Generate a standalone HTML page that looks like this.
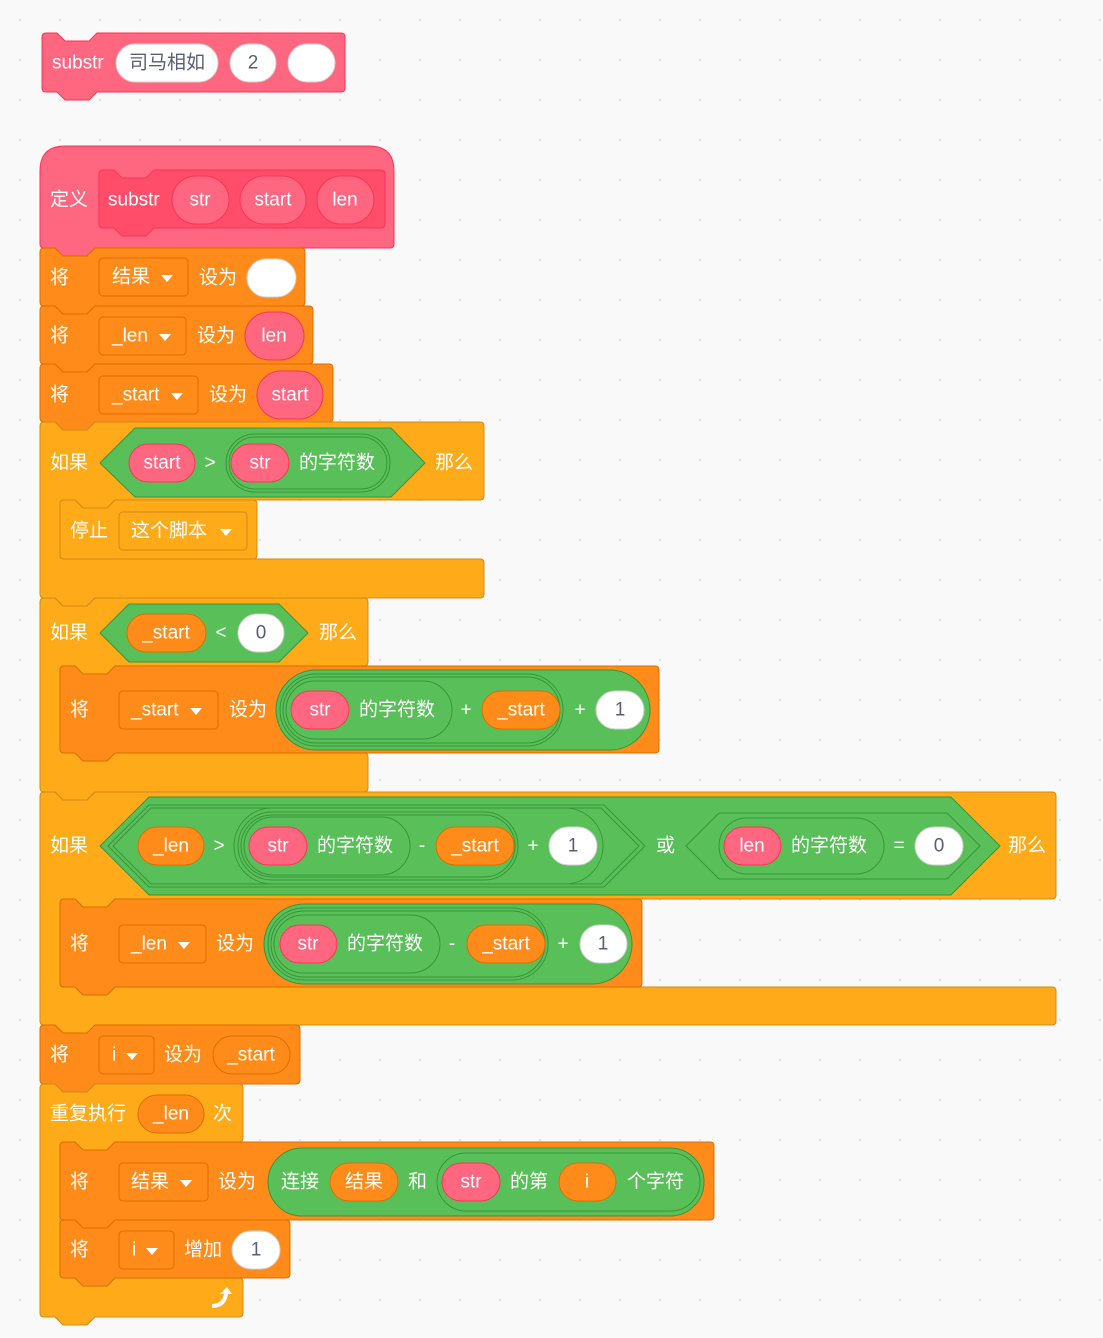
<!DOCTYPE html>
<html><head><meta charset="utf-8"><style>
html,body{margin:0;padding:0;background:#F9F9F9}
svg{display:block}
.t{fill:#fff;font-size:19px;font-family:"Liberation Sans","Noto Sans CJK SC",sans-serif;dominant-baseline:central}
.c{text-anchor:middle}
.d{fill:#575E75}
.pk{fill:#FF6680;stroke:#FF3355;stroke-width:1}
.pd{fill:#FF4D6A;stroke:#FF3355;stroke-width:1}
.or{fill:#FF8C1A;stroke:#DB6E00;stroke-width:1}
.ct{fill:#FFAB19;stroke:#CF8B17;stroke-width:1}
.gr{fill:#59C059;stroke:#389438;stroke-width:1}
.wh{fill:#fff;stroke:#d0d0d0;stroke-width:1}
.rg{fill:none;stroke:#389438;stroke-width:1}
.ar{fill:#fff}
</style></head><body>
<svg width="1103" height="1338" viewBox="0 0 1103 1338" xmlns="http://www.w3.org/2000/svg">
<defs><pattern id="dots" width="40" height="40" patternUnits="userSpaceOnUse"><circle cx="20" cy="20" r="1" fill="#d9d9d9"/></pattern></defs>
<rect width="1103" height="1338" fill="url(#dots)"/>

<path class="pk" d="M42,37 Q42,33 46,33 L57,33 L65,41 L89,41 L97,33 L341,33 Q345,33 345,37 L345,88 Q345,92 341,92 L97,92 L89,100 L65,100 L57,92 L46,92 Q42,92 42,88 Z"/>
<text class="t" x="52" y="63">substr</text>
<rect class="wh" x="116" y="44" width="102" height="38" rx="19"/><text class="t c d" x="167" y="63">司马相如</text>
<rect class="wh" x="230" y="44" width="46" height="38" rx="19"/><text class="t c d" x="253" y="63">2</text>
<rect class="wh" x="288" y="44" width="47" height="38" rx="19"/>

<path class="pk" d="M40,244 L40,171 Q40,146 65,146 L369,146 Q394,146 394,171 L394,244 Q394,248 390,248 L95,248 L87,256 L63,256 L55,248 L44,248 Q40,248 40,244 Z"/>
<text class="t" x="50" y="200">定义</text>
<path class="pd" d="M99,174 Q99,170 103,170 L114,170 L122,178 L146,178 L154,170 L381,170 Q385,170 385,174 L385,224 Q385,228 381,228 L154,228 L146,236 L122,236 L114,228 L103,228 Q99,228 99,224 Z"/>
<text class="t" x="108" y="200">substr</text>
<rect class="pk" x="172" y="176" width="57" height="48" rx="24"/><text class="t c" x="200" y="200">str</text>
<rect class="pk" x="240" y="176" width="66" height="48" rx="24"/><text class="t c" x="273" y="200">start</text>
<rect class="pk" x="317" y="176" width="57" height="48" rx="24"/><text class="t c" x="345" y="200">len</text>

<path class="or" d="M40,252 Q40,248 44,248 L55,248 L63,256 L87,256 L95,248 L301,248 Q305,248 305,252 L305,302 Q305,306 301,306 L95,306 L87,314 L63,314 L55,306 L44,306 Q40,306 40,302 Z"/>
<text class="t" x="50" y="278">将</text>
<rect class="or" x="99" y="258" width="89" height="38" rx="4"/><text class="t" x="112" y="277">结果</text><path class="ar" d="M161,275 L173,275 L167,282 Z"/>
<text class="t" x="199" y="278">设为</text>
<rect class="wh" x="247" y="259" width="49" height="38" rx="19"/>

<path class="or" d="M40,310 Q40,306 44,306 L55,306 L63,314 L87,314 L95,306 L309,306 Q313,306 313,310 L313,360 Q313,364 309,364 L95,364 L87,372 L63,372 L55,364 L44,364 Q40,364 40,360 Z"/>
<text class="t" x="50" y="336">将</text>
<rect class="or" x="99" y="317" width="87" height="38" rx="4"/><text class="t" x="112" y="336">_len</text><path class="ar" d="M159,334 L171,334 L165,341 Z"/>
<text class="t" x="197" y="336">设为</text>
<rect class="pk" x="245" y="312" width="59" height="48" rx="24"/><text class="t c" x="274" y="336">len</text>

<path class="or" d="M40,368 Q40,364 44,364 L55,364 L63,372 L87,372 L95,364 L329,364 Q333,364 333,368 L333,418 Q333,422 329,422 L95,422 L87,430 L63,430 L55,422 L44,422 Q40,422 40,418 Z"/>
<text class="t" x="50" y="395">将</text>
<rect class="or" x="99" y="376" width="99" height="38" rx="4"/><text class="t" x="112" y="395">_start</text><path class="ar" d="M171,393 L183,393 L177,400 Z"/>
<text class="t" x="209" y="395">设为</text>
<rect class="pk" x="257" y="371" width="66" height="48" rx="24"/><text class="t c" x="290" y="395">start</text>

<path class="ct" d="M40,426 Q40,422 44,422 L55,422 L63,430 L87,430 L95,422 L480,422 Q484,422 484,426 L484,496 Q484,500 480,500 L115,500 L107,508 L83,508 L75,500 L64,500 Q60,500 60,504 L60,555 Q60,559 64,559 L480,559 Q484,559 484,563 L484,594 Q484,598 480,598 L95,598 L87,606 L63,606 L55,598 L44,598 Q40,598 40,594 Z"/>
<text class="t" x="50" y="463">如果</text>
<polygon class="gr" points="100,463 135,428 391,428 425,463 391,497 135,497"/>
<rect class="pk" x="129" y="444" width="66" height="38" rx="19"/><text class="t c" x="162" y="463">start</text>
<text class="t c" x="210" y="463">&gt;</text>
<rect class="gr" x="226" y="434" width="164" height="58" rx="29"/>
<rect class="rg" x="229" y="437" width="158" height="52" rx="26"/>
<rect class="pk" x="231" y="444" width="58" height="38" rx="19"/><text class="t c" x="260" y="463">str</text>
<text class="t" x="299" y="463">的字符数</text>
<text class="t" x="435" y="463">那么</text>
<path class="ct" d="M60,504 Q60,500 64,500 L75,500 L83,508 L107,508 L115,500 L253,500 Q257,500 257,504 L257,555 Q257,559 253,559 L64,559 Q60,559 60,555 Z"/>
<text class="t" x="70" y="531">停止</text>
<rect class="ct" x="119" y="512" width="128" height="38" rx="4"/><text class="t" x="131" y="531">这个脚本</text><path class="ar" d="M220,529 L232,529 L226,536 Z"/>

<path class="ct" d="M40,602 Q40,598 44,598 L55,598 L63,606 L87,606 L95,598 L364,598 Q368,598 368,602 L368,662 Q368,666 364,666 L115,666 L107,674 L83,674 L75,666 L64,666 Q60,666 60,670 L60,749 Q60,753 64,753 L75,753 L83,761 L107,761 L115,753 L364,753 Q368,753 368,757 L368,788 Q368,792 364,792 L95,792 L87,800 L63,800 L55,792 L44,792 Q40,792 40,788 Z"/>
<text class="t" x="50" y="633">如果</text>
<polygon class="gr" points="100,633 129,604 279,604 308,633 279,662 129,662"/>
<rect class="or" x="127" y="614" width="79" height="38" rx="19"/><text class="t c" x="166" y="633">_start</text>
<text class="t c" x="221" y="633">&lt;</text>
<rect class="wh" x="238" y="614" width="46" height="38" rx="19"/><text class="t c d" x="261" y="633">0</text>
<text class="t" x="319" y="633">那么</text>
<path class="or" d="M60,670 Q60,666 64,666 L75,666 L83,674 L107,674 L115,666 L655,666 Q659,666 659,670 L659,749 Q659,753 655,753 L115,753 L107,761 L83,761 L75,753 L64,753 Q60,753 60,749 Z"/>
<text class="t" x="70" y="710">将</text>
<rect class="or" x="119" y="691" width="99" height="38" rx="4"/><text class="t" x="131" y="710">_start</text><path class="ar" d="M190,708 L202,708 L196,715 Z"/>
<text class="t" x="229" y="710">设为</text>
<rect class="gr" x="276" y="670" width="374" height="80" rx="40"/>
<rect class="rg" x="280" y="674" width="283" height="72" rx="36"/>
<rect class="rg" x="283" y="677" width="277" height="66" rx="33"/>
<rect class="rg" x="286" y="681" width="166" height="58" rx="29"/>
<rect class="pk" x="291" y="691" width="58" height="38" rx="19"/><text class="t c" x="320" y="710">str</text>
<text class="t" x="359" y="710">的字符数</text>
<text class="t c" x="466" y="710">+</text>
<rect class="or" x="482" y="691" width="78" height="38" rx="19"/><text class="t c" x="521" y="710">_start</text>
<text class="t c" x="580" y="710">+</text>
<rect class="wh" x="596" y="691" width="48" height="38" rx="19"/><text class="t c d" x="620" y="710">1</text>

<path class="ct" d="M40,796 Q40,792 44,792 L55,792 L63,800 L87,800 L95,792 L1052,792 Q1056,792 1056,796 L1056,895 Q1056,899 1052,899 L115,899 L107,907 L83,907 L75,899 L64,899 Q60,899 60,903 L60,983 Q60,987 64,987 L75,987 L83,995 L107,995 L115,987 L1052,987 Q1056,987 1056,991 L1056,1021 Q1056,1025 1052,1025 L95,1025 L87,1033 L63,1033 L55,1025 L44,1025 Q40,1025 40,1021 Z"/>
<text class="t" x="50" y="846">如果</text>
<polygon class="gr" points="100,846 149,797 951,797 1000,846 951,895 149,895"/>
<polygon class="rg" points="108,846 149,805 604,805 645,846 604,887 149,887"/>
<polygon class="rg" points="113,846 151,808 601,808 639,846 601,884 151,884"/>
<rect class="or" x="138" y="827" width="66" height="38" rx="19"/><text class="t c" x="171" y="846">_len</text>
<text class="t c" x="219" y="846">&gt;</text>
<rect class="rg" x="234" y="808" width="369" height="76" rx="38"/>
<rect class="rg" x="238" y="812" width="280" height="68" rx="34"/>
<rect class="rg" x="241" y="815" width="274" height="62" rx="31"/>
<rect class="rg" x="244" y="817" width="166" height="58" rx="29"/>
<rect class="pk" x="249" y="827" width="58" height="38" rx="19"/><text class="t c" x="278" y="846">str</text>
<text class="t" x="317" y="846">的字符数</text>
<text class="t c" x="422" y="846">-</text>
<rect class="or" x="436" y="827" width="78" height="38" rx="19"/><text class="t c" x="475" y="846">_start</text>
<text class="t c" x="533" y="846">+</text>
<rect class="wh" x="549" y="827" width="48" height="38" rx="19"/><text class="t c d" x="573" y="846">1</text>
<text class="t" x="656" y="846">或</text>
<polygon class="rg" points="686,846 719,813 947,813 980,846 947,879 719,879"/>
<rect class="rg" x="719" y="818" width="165" height="56" rx="28"/>
<rect class="pk" x="724" y="827" width="57" height="38" rx="19"/><text class="t c" x="752" y="846">len</text>
<text class="t" x="791" y="846">的字符数</text>
<text class="t c" x="899" y="846">=</text>
<rect class="wh" x="915" y="827" width="48" height="38" rx="19"/><text class="t c d" x="939" y="846">0</text>
<text class="t" x="1008" y="846">那么</text>
<path class="or" d="M60,903 Q60,899 64,899 L75,899 L83,907 L107,907 L115,899 L638,899 Q642,899 642,903 L642,983 Q642,987 638,987 L115,987 L107,995 L83,995 L75,987 L64,987 Q60,987 60,983 Z"/>
<text class="t" x="70" y="944">将</text>
<rect class="or" x="119" y="925" width="87" height="38" rx="4"/><text class="t" x="131" y="944">_len</text><path class="ar" d="M178,942 L190,942 L184,949 Z"/>
<text class="t" x="216" y="944">设为</text>
<rect class="gr" x="264" y="904" width="368" height="80" rx="40"/>
<rect class="rg" x="268" y="908" width="280" height="72" rx="36"/>
<rect class="rg" x="271" y="911" width="274" height="66" rx="33"/>
<rect class="rg" x="274" y="915" width="166" height="58" rx="29"/>
<rect class="pk" x="280" y="925" width="57" height="38" rx="19"/><text class="t c" x="308" y="944">str</text>
<text class="t" x="347" y="944">的字符数</text>
<text class="t c" x="452" y="944">-</text>
<rect class="or" x="467" y="925" width="78" height="38" rx="19"/><text class="t c" x="506" y="944">_start</text>
<text class="t c" x="563" y="944">+</text>
<rect class="wh" x="580" y="925" width="47" height="38" rx="19"/><text class="t c d" x="603" y="944">1</text>

<path class="or" d="M40,1029 Q40,1025 44,1025 L55,1025 L63,1033 L87,1033 L95,1025 L296,1025 Q300,1025 300,1029 L300,1080 Q300,1084 296,1084 L95,1084 L87,1092 L63,1092 L55,1084 L44,1084 Q40,1084 40,1080 Z"/>
<text class="t" x="50" y="1055">将</text>
<rect class="or" x="99" y="1036" width="55" height="38" rx="4"/><text class="t" x="112" y="1055">i</text><path class="ar" d="M126,1053 L138,1053 L132,1060 Z"/>
<text class="t" x="164" y="1055">设为</text>
<rect class="or" x="213" y="1036" width="77" height="38" rx="19"/><text class="t c" x="251" y="1055">_start</text>

<path class="ct" d="M40,1088 Q40,1084 44,1084 L55,1084 L63,1092 L87,1092 L95,1084 L239,1084 Q243,1084 243,1088 L243,1138 Q243,1142 239,1142 L115,1142 L107,1150 L83,1150 L75,1142 L64,1142 Q60,1142 60,1146 L60,1274 Q60,1278 64,1278 L75,1278 L83,1286 L107,1286 L115,1278 L239,1278 Q243,1278 243,1282 L243,1313 Q243,1317 239,1317 L95,1317 L87,1325 L63,1325 L55,1317 L44,1317 Q40,1317 40,1313 Z"/>
<text class="t" x="50" y="1114">重复执行</text>
<rect class="or" x="138" y="1095" width="66" height="38" rx="19"/><text class="t c" x="171" y="1114">_len</text>
<text class="t" x="213" y="1114">次</text>
<path d="M212,1304 Q222,1304 224,1294 L220,1294 L227,1287 L232,1294 L228,1294 Q226,1308 212,1308 Z" fill="#fff"/>

<path class="or" d="M60,1146 Q60,1142 64,1142 L75,1142 L83,1150 L107,1150 L115,1142 L710,1142 Q714,1142 714,1146 L714,1216 Q714,1220 710,1220 L115,1220 L107,1228 L83,1228 L75,1220 L64,1220 Q60,1220 60,1216 Z"/>
<text class="t" x="70" y="1182">将</text>
<rect class="or" x="119" y="1163" width="89" height="38" rx="4"/><text class="t" x="131" y="1182">结果</text><path class="ar" d="M180,1180 L192,1180 L186,1187 Z"/>
<text class="t" x="218" y="1182">设为</text>
<rect class="gr" x="268" y="1148" width="436" height="68" rx="34"/>
<text class="t" x="281" y="1182">连接</text>
<rect class="or" x="330" y="1163" width="68" height="38" rx="19"/><text class="t c" x="364" y="1182">结果</text>
<text class="t" x="408" y="1182">和</text>
<rect class="rg" x="437" y="1153" width="263" height="58" rx="29"/>
<rect class="pk" x="442" y="1163" width="58" height="38" rx="19"/><text class="t c" x="471" y="1182">str</text>
<text class="t" x="510" y="1182">的第</text>
<rect class="or" x="559" y="1163" width="57" height="38" rx="19"/><text class="t c" x="587" y="1182">i</text>
<text class="t" x="627" y="1182">个字符</text>

<path class="or" d="M60,1224 Q60,1220 64,1220 L75,1220 L83,1228 L107,1228 L115,1220 L286,1220 Q290,1220 290,1224 L290,1274 Q290,1278 286,1278 L115,1278 L107,1286 L83,1286 L75,1278 L64,1278 Q60,1278 60,1274 Z"/>
<text class="t" x="70" y="1250">将</text>
<rect class="or" x="119" y="1231" width="55" height="38" rx="4"/><text class="t" x="132" y="1250">i</text><path class="ar" d="M146,1248 L158,1248 L152,1255 Z"/>
<text class="t" x="184" y="1250">增加</text>
<rect class="wh" x="232" y="1231" width="48" height="38" rx="19"/><text class="t c d" x="256" y="1250">1</text>
</svg>
</body></html>
